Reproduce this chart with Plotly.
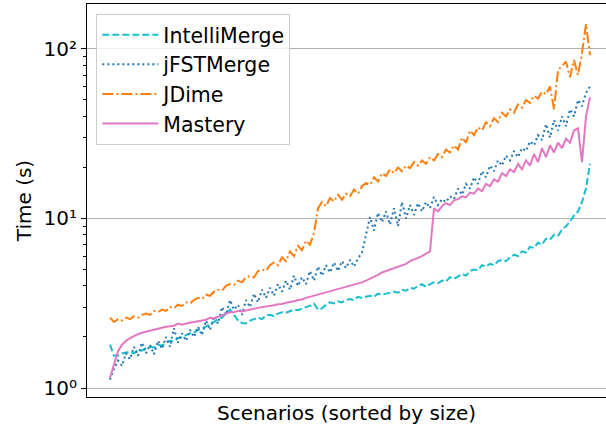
import plotly.graph_objects as go

# Scenario index (sorted by size)
scenarios = list(range(121))

intellimerge = [
    1.8, 1.55, 1.55, 1.6, 1.62, 1.63, 1.6, 1.68, 1.66, 1.72,
    1.75, 1.73, 1.8, 1.78, 1.85, 1.9, 1.88, 1.97, 2.0, 2.05,
    2.1, 2.12, 2.2, 2.25, 2.3, 2.4, 2.45, 2.55, 2.6, 2.75,
    2.9, 2.7, 2.5, 2.42, 2.4, 2.5, 2.55, 2.6, 2.55, 2.68,
    2.7, 2.65, 2.75, 2.8, 2.78, 2.85, 2.9, 2.88, 2.95, 3.0,
    3.05, 3.15, 2.9, 2.95, 3.1, 3.2, 3.15, 3.25, 3.2, 3.3,
    3.35, 3.3, 3.45, 3.4, 3.45, 3.5, 3.45, 3.6, 3.55, 3.6,
    3.65, 3.7, 3.65, 3.8, 3.75, 3.9, 3.85, 4.0, 4.1, 3.95,
    4.1, 4.2, 4.15, 4.3, 4.25, 4.5, 4.4, 4.55, 4.7, 4.6,
    4.9, 5.0, 4.95, 5.3, 5.2, 5.4, 5.3, 5.6, 5.7, 5.6,
    5.9, 6.1, 6.0, 6.4, 6.3, 6.8, 6.7, 7.2, 7.0, 7.6,
    7.5, 8.0, 7.9, 8.6, 9.0, 9.6, 10.4, 11.0, 12.5, 15.0,
    21.0,
]

jfstmerge = [
    1.12, 1.3, 1.45, 1.35, 1.6, 1.48, 1.75, 1.55, 1.85, 1.6,
    1.8, 1.58, 1.9, 1.7, 2.0, 1.75, 2.25, 1.85, 2.1, 1.9,
    2.2, 2.0, 2.3, 2.05, 2.5, 2.2, 2.65, 2.4, 3.0, 2.7,
    3.3, 2.9, 3.1, 2.7, 3.3, 3.0, 3.6, 3.2, 3.8, 3.4,
    3.9, 3.5, 4.1, 3.7, 4.3, 3.8, 4.6, 4.0, 4.5, 4.1,
    4.9, 4.3, 5.2, 4.6, 5.3, 4.8, 5.5, 4.9, 5.6, 5.1,
    5.7, 5.2, 5.8, 6.3, 8.0, 10.2, 8.5, 10.8, 9.5, 11.0,
    9.2, 11.5, 9.0, 12.5, 10.0, 12.0, 10.5, 12.3, 11.0, 12.5,
    11.5, 13.4, 12.0, 13.0, 12.5, 13.5, 13.0, 15.0, 13.8, 16.0,
    15.0, 17.5, 16.0, 19.0, 17.5, 20.5, 19.0, 22.0, 20.5, 23.5,
    22.0, 25.0, 23.0, 26.0, 25.0, 28.5, 27.0, 31.0, 29.0, 36.0,
    30.0, 38.0, 33.0, 40.0, 35.0, 44.0, 40.0, 50.0, 46.0, 55.0,
    60.0,
]

jdime = [
    2.6, 2.45, 2.55, 2.5, 2.6, 2.55, 2.65, 2.6, 2.7, 2.75,
    2.7, 2.85, 2.8, 2.9, 2.85, 3.0, 2.95, 3.1, 3.05, 3.2,
    3.15, 3.3, 3.4, 3.35, 3.55, 3.5, 3.7, 3.8, 3.75, 4.0,
    4.1, 4.05, 4.3, 4.2, 4.5, 4.6, 4.5, 4.9, 5.0, 4.9,
    5.3, 5.5, 5.3, 5.9, 5.6, 6.4, 6.0, 6.9, 6.5, 7.4,
    7.0, 8.2, 11.5, 12.5, 11.8, 13.2, 12.6, 13.8, 12.9, 14.0,
    13.5, 14.8, 14.0, 15.5, 16.2, 15.8, 17.5, 16.5, 18.5, 17.8,
    19.5, 18.5, 20.0, 19.0, 20.5, 19.8, 21.5, 20.5, 22.0, 21.0,
    23.0, 22.0, 24.0, 23.0, 25.5, 24.5, 27.0, 25.5, 30.0, 28.0,
    33.0, 31.0, 34.5, 33.0, 37.0, 35.0, 39.0, 37.0, 42.0, 40.0,
    44.0, 42.0, 47.0, 45.0, 50.0, 48.0, 53.0, 51.0, 56.0, 54.0,
    60.0, 44.0, 75.0, 80.0, 84.0, 68.0, 86.0, 70.0, 95.0, 140.0,
    92.0,
]

mastery = [
    1.15, 1.4, 1.65, 1.8, 1.9, 1.97, 2.03, 2.08, 2.12, 2.15,
    2.18, 2.2, 2.24, 2.26, 2.3, 2.31, 2.33, 2.4, 2.36, 2.4,
    2.43, 2.45, 2.48, 2.5, 2.53, 2.6, 2.58, 2.63, 2.68, 2.75,
    2.8, 2.8, 2.85, 2.83, 2.87, 2.9, 2.93, 2.97, 3.0, 3.02,
    3.05, 3.08, 3.12, 3.13, 3.18, 3.2, 3.25, 3.3, 3.33, 3.4,
    3.45, 3.5, 3.58, 3.6, 3.68, 3.72, 3.78, 3.85, 3.9, 3.95,
    4.0, 4.05, 4.15, 4.2, 4.3, 4.4, 4.5, 4.65, 4.8, 4.9,
    5.0, 5.1, 5.2, 5.3, 5.4, 5.6, 5.7, 5.85, 6.0, 6.2,
    6.4, 11.5, 11.0, 11.8, 12.3, 12.0, 12.8, 13.0, 13.5, 13.3,
    14.2, 14.0, 15.0, 14.5, 16.0, 15.5, 17.0, 16.5, 18.5, 17.8,
    19.5, 18.8, 21.0, 19.5, 22.0, 20.5, 24.0, 21.5, 26.0, 23.0,
    27.0, 24.5, 28.0, 26.0, 29.5, 28.0, 33.0, 34.0, 21.5, 40.0,
    52.0,
]

y_tick_vals = [1, 10, 100]
y_tick_text = ["10⁰", "10¹", "10²"]
minor_vals = [2, 3, 4, 5, 6, 7, 8, 9, 20, 30, 40, 50, 60, 70, 80, 90]

FS = 20
LFS = 20.5

fig = go.Figure()
fig.add_trace(go.Scatter(x=scenarios, y=intellimerge, mode="lines", name="IntelliMerge",
                         line=dict(color="#17becf", width=2, dash="7px,3px")))
fig.add_trace(go.Scatter(x=scenarios, y=jfstmerge, mode="lines", name="jFSTMerge",
                         line=dict(color="#1f77b4", width=2, dash="2px,3px")))
fig.add_trace(go.Scatter(x=scenarios, y=jdime, mode="lines", name="JDime",
                         line=dict(color="#ff7f0e", width=2, dash="11px,3px,2px,3px")))
fig.add_trace(go.Scatter(x=scenarios, y=mastery, mode="lines", name="Mastery",
                         line=dict(color="#e377c2", width=2)))

fig.update_layout(
    width=606, height=426,
    margin=dict(l=87, r=0, t=4, b=29, autoexpand=False),
    paper_bgcolor="white", plot_bgcolor="white",
    font=dict(family="DejaVu Sans", size=FS, color="black"),
    showlegend=True,
    legend=dict(x=0.018, y=0.975, xanchor="left", yanchor="top",
                bgcolor="rgba(255,255,255,0.8)", bordercolor="#cccccc", borderwidth=1,
                itemwidth=56,
                font=dict(family="DejaVu Sans", size=LFS, color="black"), tracegroupgap=0),
)
fig.update_xaxes(
    range=[-5.75, 124.0], showticklabels=False, ticks="", showgrid=False, zeroline=False,
    showline=True, linecolor="black", linewidth=1, mirror=True, automargin=False,
    title=dict(text="Scenarios (sorted by size)",
               font=dict(family="DejaVu Sans", size=FS, color="black"), standoff=8),
)
fig.update_yaxes(
    type="log", range=[-0.053, 2.265],
    tickmode="array", tickvals=y_tick_vals, ticktext=y_tick_text,
    ticks="outside", ticklen=5, tickwidth=1, tickcolor="black",
    showgrid=True, gridcolor="#b0b0b0", gridwidth=1, zeroline=False,
    showline=True, linecolor="black", linewidth=1, mirror=True, automargin=False,
    tickfont=dict(family="DejaVu Sans", size=FS, color="black"),
    minor=dict(tickmode="array", tickvals=minor_vals, ticks="outside", ticklen=3,
               tickcolor="black", showgrid=False),
    title=dict(text="Time (s)", font=dict(family="DejaVu Sans", size=FS, color="black"),
               standoff=6),
)

fig.write_html("out.html", config={"displayModeBar": False},
               post_script="document.body.style.margin='0';")
